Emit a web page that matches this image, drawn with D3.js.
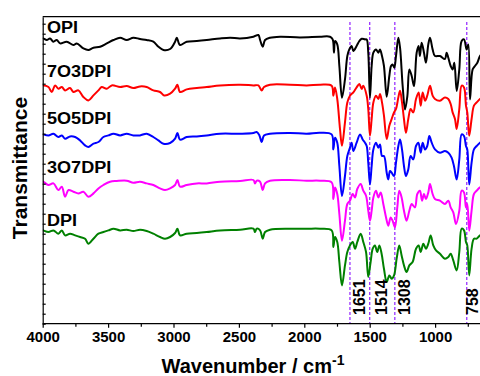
<!DOCTYPE html>
<html>
<head>
<meta charset="utf-8">
<script src="https://cdn.jsdelivr.net/npm/d3@7/dist/d3.min.js"></script>
<style>
  html, body { margin: 0; padding: 0; background: #fff; }
  svg text { font-family: "Liberation Sans", Arial, sans-serif; font-weight: bold; fill: #000; }
</style>
</head>
<body>
<svg id="chart" width="480" height="376"></svg>
<script>
// stacked FTIR traces, top to bottom
const seriesNames = ['OPI', '7O3DPI', '5O5DPI', '3O7DPI', 'DPI'];
const seriesColors = ['#000000', '#ff0000', '#0000ff', '#ff00ff', '#008000'];
const seriesOffsets = [287, 239, 191, 143, 95];

// [wavenumber (cm-1), transmittance relative to the flat region]
const opi = [[4000,-2],[3995,-1.7],[3969,-3.3],[3944,-1.7],[3918,-5],[3893,-3.3],[3867,-6.7],[3816,-5],[3765,-8.3],[3740,-6.7],[3689,-11.7],[3651,-13.3],[3612,-11],[3561,-10],[3510,-6.7],[3459,-3.3],[3408,-1],[3358,-3.3],[3307,-1],[3256,-2.3],[3205,-3.3],[3154,-5],[3115,-10],[3077,-13.3],[3026,-12.3],[2988,-5],[2975,-1],[2950,-8.3],[2899,-5],[2822,-4.3],[2746,-3.3],[2644,-1.7],[2568,-1],[2491,-1.7],[2389,0],[2351,1.7],[2338,-3.3],[2318,-10],[2300,-3.3],[2262,-1],[2185,0],[2033,-0.7],[1880,0],[1804,0],[1783,-2.7],[1773,-16],[1765,-4.3],[1748,-7.7],[1732,-29.3],[1712,-61],[1689,-42.7],[1671,-19.3],[1656,-12.7],[1638,-9.3],[1625,-14.3],[1600,-9.3],[1579,-4.3],[1561,-2],[1536,-2.7],[1523,-2.7],[1511,-16],[1498,-61],[1485,-29.3],[1472,-16],[1452,-12.7],[1434,-16],[1421,-12.7],[1406,-19.3],[1391,-29.3],[1370,-60],[1350,-39.3],[1337,-29.3],[1325,-27.7],[1312,-31],[1299,-19.3],[1281,-1],[1268,-11],[1248,-49.3],[1230,-72.7],[1212,-59.3],[1197,-32.7],[1179,-39.3],[1161,-49.3],[1141,-16],[1126,-9.3],[1116,-19.3],[1103,-6],[1085,-16],[1070,-26],[1052,-7.7],[1039,-1],[1019,-12.7],[1001,-19.3],[963,-19.3],[925,-22.3],[912,-16],[899,-21],[881,-29.3],[866,-32.7],[853,-26],[835,-54.3],[815,-32.7],[797,-4.3],[779,-2.7],[759,-12.7],[746,-7.7],[733,-62.7],[713,-32.7],[695,-29.3],[677,-26],[657,-19.3],[630,-15]];

const o7d3 = [[4000,-1],[3995,-0.7],[3956,-2.3],[3931,-7.3],[3905,-0.7],[3880,-4],[3854,-2.3],[3829,-5.7],[3791,-3.3],[3765,-7.3],[3727,-5.7],[3689,-12.3],[3651,-15.7],[3612,-10.7],[3574,-5.7],[3549,-2.3],[3510,-4],[3472,-0.7],[3408,-2.3],[3358,-1.3],[3307,-3.3],[3256,-1.7],[3205,-2.3],[3154,-5.7],[3103,-7.3],[3072,-10.7],[3026,-9],[2988,-4],[2970,0],[2950,-7.3],[2899,-4.7],[2822,-3.3],[2746,-2.3],[2644,-0.7],[2491,0],[2389,-0.7],[2351,-0.7],[2326,-5.7],[2308,-2.3],[2262,0],[2109,0],[1982,-0.7],[1880,0],[1791,-1],[1778,-11],[1765,-2.7],[1748,-14.3],[1727,-44.3],[1712,-61],[1689,-37.7],[1671,-17.7],[1651,-11],[1625,-7.7],[1600,-2.7],[1579,0.7],[1561,-4.3],[1549,-1],[1523,-11],[1511,-24.3],[1498,-51],[1485,-34.3],[1472,-17.7],[1452,-11],[1434,-14.3],[1421,-9.3],[1406,-17.7],[1391,-31],[1370,-54.3],[1350,-41],[1332,-34.3],[1314,-27.7],[1299,-24.3],[1281,-12.7],[1268,-6],[1253,-17.7],[1238,-34.3],[1223,-48],[1205,-34.3],[1187,-24.3],[1167,-27.7],[1146,-14.3],[1126,-7.7],[1110,-21],[1095,-7.7],[1077,-16],[1060,-11],[1039,-1],[1019,-11],[1001,-14.3],[963,-16],[925,-12.7],[899,-14.3],[881,-19.3],[866,-27.7],[848,-34.3],[835,-44.3],[815,-24.3],[797,-1],[779,-2.7],[764,-21],[754,-27.7],[739,-51],[721,-34.3],[703,-21],[682,-17.7],[657,-14.3],[630,-12]];

const o5d5 = [[4000,-1.5],[3995,-1.7],[3956,-2.7],[3918,-1],[3880,-4.3],[3854,-2.7],[3829,-6],[3791,-3.7],[3752,-4.3],[3714,-7.7],[3676,-12.7],[3651,-14.3],[3612,-11],[3574,-9.3],[3536,-4.3],[3498,-2.7],[3459,-1],[3408,-2.7],[3358,-1],[3307,-2.7],[3256,-2.7],[3205,-1],[3154,-4.3],[3115,-7.7],[3077,-11],[3026,-10.3],[2988,-6],[2970,-0.3],[2950,-7],[2899,-4.3],[2822,-3.7],[2746,-2.7],[2644,-1],[2491,-1],[2389,-0.3],[2364,0.7],[2343,-2.7],[2326,-9.3],[2308,-2.7],[2262,-1],[2109,-0.3],[1982,-1],[1880,0],[1791,-1.7],[1778,-16.7],[1765,-5],[1748,-10],[1732,-33.3],[1712,-63.3],[1689,-43.3],[1671,-23.3],[1651,-15],[1638,-10],[1625,-18.3],[1600,-10],[1574,-1.7],[1554,-6.7],[1536,-10],[1523,-13.3],[1511,-30],[1498,-51.7],[1485,-33.3],[1472,-16.7],[1452,-10],[1434,-15],[1421,-11.7],[1406,-23.3],[1391,-23.3],[1370,-40],[1358,-46.7],[1345,-38.3],[1332,-40],[1314,-43.3],[1299,-30],[1281,-13.3],[1268,-6.7],[1253,-16.7],[1238,-33.3],[1223,-43.3],[1205,-36.7],[1187,-23.3],[1167,-26.7],[1146,-13.3],[1128,-10],[1110,-20],[1095,-10],[1077,-16.7],[1060,-13.3],[1044,-3.3],[1026,-10],[1001,-16.7],[963,-20],[925,-18.3],[899,-20],[874,-25],[856,-33.3],[835,-46.7],[815,-26.7],[797,-1.7],[779,-3.3],[764,-13.3],[754,-16.7],[739,-51.7],[721,-30],[703,-16.7],[682,-13.3],[657,-10],[630,-8]];

const o3d7 = [[4000,-1],[3995,-1],[3956,-4.3],[3918,-2.7],[3880,-9.3],[3854,-6],[3829,-16],[3803,-9.3],[3765,-11],[3727,-12.7],[3689,-11],[3651,-16],[3612,-12.7],[3574,-7.7],[3536,-4.3],[3485,-1],[3434,-0.3],[3358,0],[3307,-2],[3256,-1],[3205,-2.7],[3154,-4.3],[3103,-7.7],[3065,-9.3],[3026,-7.7],[2988,-4.3],[2970,0.7],[2950,-6],[2899,-4.3],[2822,-2.7],[2746,-2.7],[2644,-1],[2491,-0.3],[2389,0.7],[2377,-2.7],[2364,0],[2338,-1],[2318,-9.3],[2300,-2.7],[2262,0],[2109,0.7],[1982,0],[1880,0],[1791,-1.7],[1778,-18.3],[1765,-6.7],[1748,-13.3],[1732,-33.3],[1712,-60],[1689,-40],[1671,-23.3],[1651,-20],[1630,-13.3],[1612,-16.7],[1595,-8.3],[1569,-3.3],[1549,-10],[1528,-15],[1511,-30],[1498,-40],[1485,-30],[1472,-16.7],[1452,-10],[1434,-16.7],[1416,-11.7],[1396,-23.3],[1375,-36.7],[1358,-45],[1340,-36.7],[1325,-40],[1307,-46.7],[1289,-26.7],[1274,-10],[1256,-16.7],[1238,-30],[1218,-40],[1197,-30],[1179,-23.3],[1154,-26.7],[1136,-13.3],[1116,-10],[1100,-20],[1085,-13.3],[1070,-18.3],[1052,-11.7],[1039,-3.3],[1019,-13.3],[1001,-18.3],[963,-20],[925,-23.3],[899,-20],[881,-26.7],[861,-31.7],[840,-43.3],[815,-30],[797,-10],[779,-11.7],[764,-26.7],[754,-23.3],[739,-50],[721,-30],[703,-13.3],[682,-10],[657,-6.7],[630,-5]];

const dpi = [[4000,-1.5],[3995,-1.7],[3956,-3.3],[3918,-1.7],[3880,-5],[3854,-1.7],[3829,-6.7],[3791,-5],[3752,-6.7],[3714,-8.3],[3676,-10],[3651,-15],[3612,-10],[3574,-5],[3536,-3.3],[3498,-1.7],[3459,0],[3408,-1.7],[3358,-1],[3307,-2.3],[3256,-1],[3205,-2.3],[3154,-5],[3103,-8.3],[3065,-10],[3026,-8.3],[2988,-4.3],[2970,0],[2950,-6.7],[2899,-5],[2822,-4.3],[2746,-3.3],[2644,-1.7],[2491,-1],[2389,0],[2377,-3.3],[2364,0],[2338,-1.7],[2318,-10],[2300,-3.3],[2262,-1],[2109,0],[1982,0],[1880,0],[1791,-1.7],[1778,-18.3],[1765,-8.3],[1748,-13.3],[1732,-33.3],[1712,-56.7],[1689,-36.7],[1671,-23.3],[1651,-16.7],[1630,-13.3],[1612,-20],[1595,-13.3],[1569,-5],[1549,-13.3],[1528,-23.3],[1511,-48.3],[1493,-33.3],[1477,-20],[1460,-16.7],[1442,-23.3],[1426,-16.7],[1409,-25],[1391,-40],[1370,-53.3],[1350,-46.7],[1332,-50],[1314,-46.7],[1294,-30],[1274,-16.7],[1256,-26.7],[1238,-36.7],[1218,-43.3],[1197,-36.7],[1172,-33.3],[1146,-20],[1126,-16.7],[1110,-23.3],[1090,-15],[1070,-20],[1052,-15],[1034,-6.7],[1014,-16.7],[993,-21.7],[963,-25],[925,-30],[899,-28.3],[881,-25],[861,-31.7],[835,-41.7],[815,-23.3],[797,0],[779,-1.7],[764,-13.3],[754,-16.7],[739,-46.7],[721,-20],[703,-10],[682,-10],[657,-6.7],[630,-5]];

const seriesData = [opi, o7d3, o5d5, o3d7, dpi];

// marked bands
const markerWaves = [1651, 1500, 1308, 758];
const markerLabels = ['1651', '1514', '1308', '758'];

const xTicks = [4000, 3500, 3000, 2500, 2000, 1500, 1000];
const xMinorTicks = [3750, 3250, 2750, 2250, 1750, 1250, 750];

// layout
const svg = d3.select('#chart');
const W = 480, H = 376;
const margin = { left: 42.7, top: 16.7, bottom: 323.7 };

const x = d3.scaleLinear().domain([4000, 500]).range([margin.left, margin.left + 3500 * 0.1308]);
const y = d3.scaleLinear().domain([0, 307]).range([margin.bottom, margin.top]);

svg.append('rect').attr('width', W).attr('height', H).attr('fill', '#fff');

svg.append('defs').append('clipPath').attr('id', 'plot-clip')
  .append('rect')
  .attr('x', margin.left).attr('y', margin.top)
  .attr('width', W - margin.left).attr('height', margin.bottom - margin.top);

// dashed marker lines
svg.append('g')
  .selectAll('line')
  .data(markerWaves)
  .enter()
  .append('line')
  .attr('x1', (d) => x(d))
  .attr('x2', (d) => x(d))
  .attr('y1', 22)
  .attr('y2', margin.bottom)
  .attr('stroke', '#9933ff')
  .attr('stroke-width', 1.3)
  .attr('stroke-dasharray', '3,2');

// traces
const line = d3.line()
  .x((d) => x(d[0]))
  .y((d) => y(d[1]))
  .curve(d3.curveCatmullRom.alpha(0.5));

const traces = svg.append('g').attr('clip-path', 'url(#plot-clip)');
seriesData.forEach((data, i) => {
  const pts = data.map((d) => [d[0], seriesOffsets[i] + d[1]]);
  traces.append('path')
    .attr('d', line(pts))
    .attr('fill', 'none')
    .attr('stroke', seriesColors[i])
    .attr('stroke-width', 2)
    .attr('stroke-linejoin', 'round');
});

// trace names (the original lettering is a little wide)
const labelBaselines = [33, 77, 124, 172.5, 225.5];
svg.selectAll('.name')
  .data(seriesNames)
  .enter()
  .append('text')
  .attr('class', 'name')
  .attr('transform', (d, i) => `translate(47,${labelBaselines[i]}) scale(1.13,1)`)
  .attr('font-size', 16)
  .text((d) => d);

// marker labels (rotated)
const markerDx = [15, 17, 15, 11];
svg.selectAll('.mlabel')
  .data(markerLabels)
  .enter()
  .append('text')
  .attr('class', 'mlabel')
  .attr('transform', (d, i) => `translate(${x(markerWaves[i]) + markerDx[i]},315) rotate(-90)`)
  .attr('font-size', 16)
  .text((d) => d);

// axes
const xAxis = svg.append('g').attr('transform', `translate(0,${margin.bottom})`)
  .call(d3.axisBottom(x).tickValues(xTicks).tickSize(4).tickSizeOuter(0).tickFormat(d3.format('d')));
xAxis.select('.domain').attr('d', `M${margin.left},0H${W}`);
xAxis.selectAll('text').attr('font-size', 15).attr('font-family', null).attr('dy', '0.95em').attr('y', 4);

svg.append('g').attr('transform', `translate(0,${margin.bottom})`)
  .call(d3.axisBottom(x).tickValues(xMinorTicks).tickSize(3).tickFormat(''))
  .select('.domain').remove();

svg.append('line')
  .attr('x1', margin.left).attr('x2', W).attr('y1', margin.top).attr('y2', margin.top)
  .attr('stroke', '#000').attr('stroke-width', 1.2);

svg.append('g').attr('transform', `translate(${margin.left},0)`)
  .call(d3.axisRight(y).tickValues(d3.range(0, 307, 10)).tickSize(3).tickSizeOuter(0).tickFormat(''));

svg.selectAll('.domain, .tick line').attr('stroke', '#000').attr('stroke-width', 1.2);

// axis titles
const xTitle = svg.append('text')
  .attr('x', 253)
  .attr('y', 373)
  .attr('text-anchor', 'middle')
  .attr('font-size', 20);
xTitle.append('tspan').text('Wavenumber / cm');
xTitle.append('tspan').attr('font-size', 14).attr('dy', -8).text('-1');

svg.append('text')
  .attr('transform', 'translate(27,168) rotate(-90)')
  .attr('text-anchor', 'middle')
  .attr('font-size', 21)
  .text('Transmittance');
</script>
</body>
</html>
